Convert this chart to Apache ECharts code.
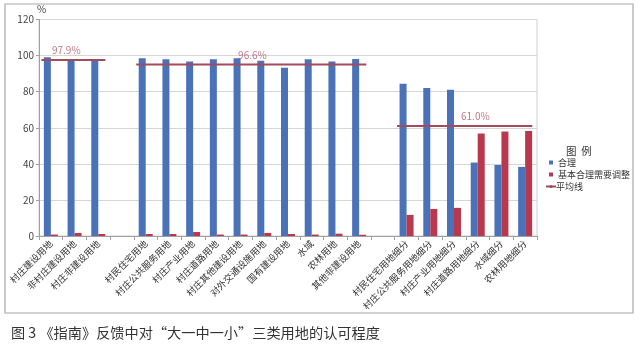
<!DOCTYPE html>
<html><head><meta charset="utf-8">
<script src="https://cdn.jsdelivr.net/npm/echarts@6/dist/echarts.min.js"></script>
<style>html,body{margin:0;padding:0;background:#fff}#c{width:640px;height:344px}</style>
</head><body><div id="c"></div>
<script>
// Categories ('' slots are the gaps between groups)
var categories = ['村庄建设用地','非村庄建设用地','村庄非建设用地',' ',
  '村民住宅用地','村庄公共服务用地','村庄产业用地','村庄道路用地','村庄其他建设用地','对外交通设施用地','国有建设用地','水域','农林用地','其他非建设用地','  ',
  '村民住宅用地细分','村庄公共服务用地细分','村庄产业用地细分','村庄道路用地细分','水域细分','农林用地细分'];
var reasonable = [99.1,97.4,97.4,null, 98.5,98.0,96.7,98.0,98.5,97.1,93.2,98.0,96.7,98.1,null, 84.4,82.0,81.1,40.7,39.4,38.3];
var needAdjust = [0.8,1.7,1.1,null, 1.1,1.1,2.2,0.8,0.8,1.7,1.1,0.8,1.3,0.7,null, 11.7,15.0,15.6,56.8,57.9,58.2];
// average lines: category index range of each group, drawn level, label and where along the axis the label sits
var groupFirst = [0, 4, 15];
var groupLast = [2, 13, 20];
var avgLevel = [97.5, 95.0, 61.0];
var avgLabel = ['97.9%', '96.6%', '61.0%'];
var avgLabelAt = [1.15, 9.0, 18.4];
var yTicks = [0, 20, 40, 60, 80, 100, 120];

var FONT = '"Noto Sans CJK SC", "Noto Sans", sans-serif';
var lineColor = '#a34a5c';
var avgSeries = groupFirst.map(function(f, i){
  return {
    name: '平均线', type: 'line', xAxisIndex: 1, yAxisIndex: 0, symbol: 'none',
    lineStyle: {color: lineColor, width: 2}, itemStyle: {color: lineColor},
    z: 5, silent: true,
    data: [[f + 0.1, avgLevel[i]], [groupLast[i] + 0.8, avgLevel[i]]]
  };
});
var avgLabelSeries = {
  name: 'avgLabels', type: 'scatter', xAxisIndex: 1, yAxisIndex: 0,
  symbolSize: 1, itemStyle: {color: 'rgba(0,0,0,0)'}, silent: true, z: 6,
  label: {show: true, position: 'top', distance: 4, color: '#b0566a', fontSize: 10, fontFamily: FONT,
    formatter: function(p){ return avgLabel[p.dataIndex]; }},
  data: avgLabelAt.map(function(x, i){ return [x, avgLevel[i]]; })
};

var legendText = {fontSize: 9, color: '#333', fontFamily: FONT};
var chart = echarts.init(document.getElementById('c'), null, {renderer: 'canvas'});
chart.setOption({
  animation: false,
  textStyle: {fontFamily: FONT},
  title: [
    {text: '图 3 《指南》反馈中对“大一中一小”三类用地的认可程度', left: 6, top: 321,
     textStyle: {fontSize: 14.2, fontWeight: 'normal', color: '#333', fontFamily: FONT}},
    {text: '图  例', left: 561, top: 141, textStyle: {fontSize: 10.5, fontWeight: 'normal', color: '#333', fontFamily: FONT}}
  ],
  graphic: [{type: 'rect', shape: {x: 5, y: 4, width: 628, height: 309}, style: {fill: null, stroke: '#a8a8a8', lineWidth: 1.2}, silent: true}],
  legend: [
    {left: 549, top: 158, itemWidth: 4, itemHeight: 4, padding: 0,
     data: [{name: '合理', icon: 'rect'}], textStyle: legendText},
    {left: 549, top: 170, itemWidth: 4, itemHeight: 4, padding: 0,
     data: [{name: '基本合理需要调整', icon: 'rect'}], textStyle: legendText},
    {left: 545, top: 182, itemWidth: 10, itemHeight: 4, itemGap: 0, padding: 0,
     data: [{name: '平均线'}], textStyle: Object.assign({}, legendText, {padding: [0, 0, 0, -5]})}
  ],
  grid: {left: 39, top: 19.5, right: 103, bottom: 108, show: true, borderColor: '#cfcfcf', borderWidth: 1},
  xAxis: [
    {type: 'category', data: categories,
     axisLine: {lineStyle: {color: '#a0a0a0'}},
     axisTick: {show: true, interval: 0, length: 4, lineStyle: {color: '#a0a0a0'}},
     axisLabel: {interval: 0, rotate: 45, fontSize: 9.3, color: '#333', margin: 6, fontFamily: FONT}},
    {type: 'value', min: 0, max: categories.length, show: false}
  ],
  yAxis: {type: 'value', min: yTicks[0], max: yTicks[yTicks.length - 1], interval: yTicks[1] - yTicks[0],
    name: '%', nameLocation: 'end', nameGap: 5, nameTextStyle: {fontSize: 10, color: '#444', align: 'left', padding: [0, 0, 0, -2]},
    axisLine: {show: true, lineStyle: {color: '#a0a0a0'}},
    axisTick: {show: true, length: 3, lineStyle: {color: '#a0a0a0'}},
    axisLabel: {fontSize: 10, color: '#444', margin: 5},
    splitLine: {lineStyle: {color: '#d6d6d6'}}},
  series: [
    {name: '合理', type: 'bar', data: reasonable, barWidth: 7, barGap: '0%', itemStyle: {color: '#4a72b8'}},
    {name: '基本合理需要调整', type: 'bar', data: needAdjust, barWidth: 7, barGap: '0%', itemStyle: {color: '#b8384e'}}
  ].concat(avgSeries, [avgLabelSeries])
});
</script></body></html>
